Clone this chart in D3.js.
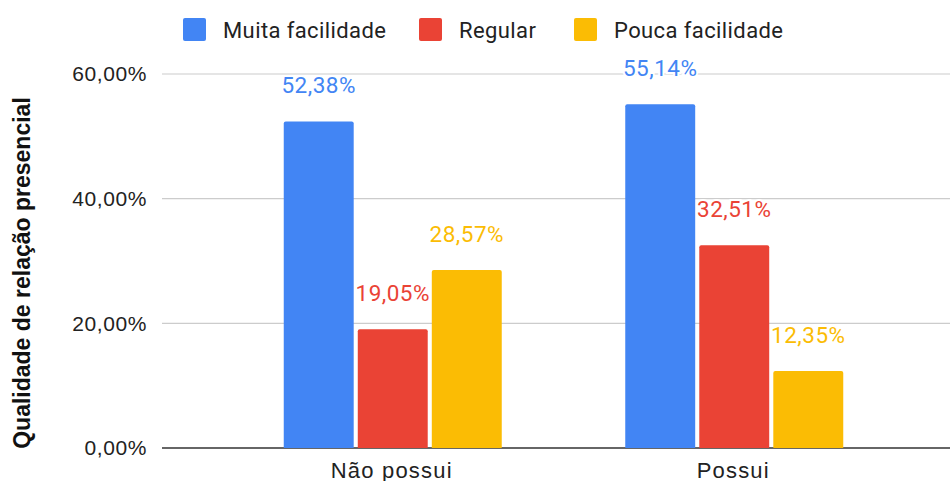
<!DOCTYPE html>
<html>
<head>
<meta charset="utf-8">
<script src="https://cdn.jsdelivr.net/npm/d3@7"></script>
<style>
  body { margin: 0; background: #fff; }
  svg { display: block; }
</style>
</head>
<body>
<script>
// categories and series
var categories = ["Não possui", "Possui"];
var seriesNames = ["Muita facilidade", "Regular", "Pouca facilidade"];
var muita = [52.38, 55.14];
var regular = [19.05, 32.51];
var pouca = [28.57, 12.35];
var yTicks = [0, 20, 40, 60];
var colors = ["#4285F4", "#EA4335", "#FBBC04"];

var w = 950, h = 481;
var plotL = 162, plotR = 950, plotT = 74, plotB = 448;

var svg = d3.select("body").append("svg")
  .attr("width", w)
  .attr("height", h);

var y = d3.scaleLinear().domain([0, 60]).range([plotB, plotT]);
var x0 = d3.scaleBand().domain(categories).range([221, 904]).paddingInner(0).paddingOuter(0);
var x1 = d3.scaleBand().domain(seriesNames).range([-108, 110]).paddingInner(0.055);

var fmt = function(v) { return v.toFixed(2).replace(".", ",") + "%"; };

// gridlines
svg.append("g").selectAll("line")
  .data(yTicks)
  .enter().append("line")
  .attr("x1", plotL).attr("x2", plotR)
  .attr("y1", function(d) { return y(d); })
  .attr("y2", function(d) { return y(d); })
  .attr("stroke", function(d) { return d === 0 ? "#333" : "#ccc"; })
  .attr("stroke-width", function(d) { return d === 0 ? 1.5 : 1.2; });

// y tick labels
svg.append("g").selectAll("text")
  .data(yTicks)
  .enter().append("text")
  .attr("x", 147)
  .attr("y", function(d) { return y(d); })
  .attr("dy", "0.35em")
  .attr("text-anchor", "end")
  .style("font-family", "Liberation Sans, Arial, sans-serif")
  .style("font-size", "21px")
  .style("letter-spacing", "0.6px")
  .style("fill", "#222")
  .text(function(d) { return fmt(d); });

// y title
svg.append("text")
  .attr("transform", "translate(30,273) rotate(-90)")
  .attr("text-anchor", "middle")
  .style("font-family", "Liberation Sans, Arial, sans-serif")
  .style("font-weight", "bold")
  .style("font-size", "23px")
  .style("fill", "#111")
  .text("Qualidade de relação presencial");

var rows = [];
categories.forEach(function(c, i) {
  rows.push({ cat: c, s: seriesNames[0], v: muita[i], col: colors[0] });
  rows.push({ cat: c, s: seriesNames[1], v: regular[i], col: colors[1] });
  rows.push({ cat: c, s: seriesNames[2], v: pouca[i], col: colors[2] });
});

var bx = function(d) { return x0(d.cat) + x0.bandwidth() / 2 + x1(d.s); };

// bars
svg.append("g").selectAll("path")
  .data(rows)
  .enter().append("path")
  .attr("fill", function(d) { return d.col; })
  .attr("d", function(d) {
    var x = bx(d), bw = x1.bandwidth(), t = y(d.v), b = y(0), r = 2;
    return "M" + x + "," + b + "V" + (t + r) + "Q" + x + "," + t + " " + (x + r) + "," + t +
      "H" + (x + bw - r) + "Q" + (x + bw) + "," + t + " " + (x + bw) + "," + (t + r) + "V" + b + "Z";
  });

// value labels
svg.append("g").selectAll("text")
  .data(rows)
  .enter().append("text")
  .attr("x", function(d) { return bx(d) + x1.bandwidth() / 2; })
  .attr("y", function(d) { return y(d.v) - 28; })
  .attr("text-anchor", "middle")
  .style("font-family", "Roboto, sans-serif")
  .style("font-size", "22.5px")
  .style("letter-spacing", "0.5px")
  .style("fill", function(d) { return d.col; })
  .style("paint-order", "stroke")
  .style("stroke", "#fff")
  .style("stroke-width", "4px")
  .text(function(d) { return fmt(d.v); });

// x labels
svg.append("g").selectAll("text")
  .data(categories)
  .enter().append("text")
  .attr("x", function(d) { return x0(d) + x0.bandwidth() / 2; })
  .attr("y", 478)
  .attr("text-anchor", "middle")
  .style("font-family", "Liberation Sans, Arial, sans-serif")
  .style("font-size", "22px")
  .style("letter-spacing", "1.2px")
  .style("fill", "#222")
  .text(function(d) { return d; });

// legend
var legX = [183, 419, 574];
var leg = svg.append("g").selectAll("g")
  .data(seriesNames)
  .enter().append("g")
  .attr("transform", function(d, i) { return "translate(" + legX[i] + ",18)"; });
leg.append("rect")
  .attr("width", 23).attr("height", 23).attr("rx", 2)
  .attr("fill", function(d, i) { return colors[i]; });
leg.append("text")
  .attr("x", 40).attr("y", 12).attr("dy", "0.35em")
  .style("font-family", "Roboto, sans-serif")
  .style("font-size", "22px")
  .style("letter-spacing", "0.4px")
  .style("fill", "#222")
  .text(function(d) { return d; });
</script>
</body>
</html>
